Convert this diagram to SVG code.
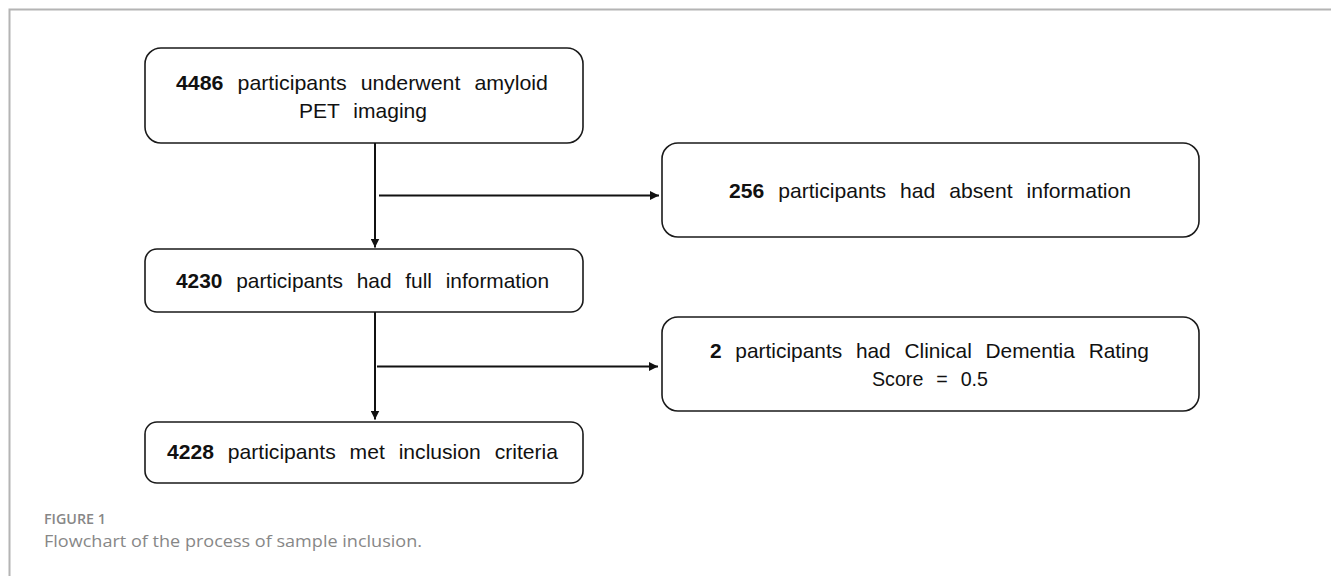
<svg xmlns="http://www.w3.org/2000/svg" width="1331" height="576" viewBox="0 0 1331 576">
<defs>
<style>
.box{fill:#fff;stroke:#1a1a1a;stroke-width:1.6}
.t{font-family:"Liberation Sans",Arial,sans-serif;font-size:21px;fill:#111;text-anchor:middle;word-spacing:8px}
.b{font-weight:bold}
.ln{stroke:#111;stroke-width:2;fill:none}
.frame{stroke:#b4b4b4;stroke-width:2;fill:none}
.cap{font-family:"Open Sans","Noto Sans",sans-serif;fill:#878787}
</style>
<marker id="ah" viewBox="0 0 10 10" refX="10" refY="5" markerWidth="9" markerHeight="9" markerUnits="userSpaceOnUse" orient="auto">
<path d="M0,0 L10,5 L0,10 z" fill="#111"/>
</marker>
</defs>
<rect width="1331" height="576" fill="#fff"/>
<path class="frame" d="M9.5,576 V9.5 H1331"/>

<g id="n1">
<rect class="box" x="145" y="48" width="438" height="95" rx="16"/>
<text class="t" x="362" y="90" textLength="372" lengthAdjust="spacingAndGlyphs"><tspan class="b">4486</tspan> participants underwent amyloid</text>
<text class="t" x="363" y="118" textLength="128" lengthAdjust="spacingAndGlyphs">PET imaging</text>
</g>
<g id="n2">
<rect class="box" x="662" y="143" width="537" height="94" rx="16"/>
<text class="t" x="930" y="198" textLength="402" lengthAdjust="spacingAndGlyphs"><tspan class="b">256</tspan> participants had absent information</text>
</g>
<g id="n3">
<rect class="box" x="145" y="249" width="438" height="63" rx="12"/>
<text class="t" x="362.5" y="288" textLength="373" lengthAdjust="spacingAndGlyphs"><tspan class="b">4230</tspan> participants had full information</text>
</g>
<g id="n4">
<rect class="box" x="662" y="317" width="537" height="94" rx="16"/>
<text class="t" x="929.5" y="358" textLength="439" lengthAdjust="spacingAndGlyphs"><tspan class="b">2</tspan> participants had Clinical Dementia Rating</text>
<text class="t" x="930" y="386" textLength="116" lengthAdjust="spacingAndGlyphs">Score = 0.5</text>
</g>
<g id="n5">
<rect class="box" x="145" y="422" width="438" height="61" rx="12"/>
<text class="t" x="362.5" y="459" textLength="391" lengthAdjust="spacingAndGlyphs"><tspan class="b">4228</tspan> participants met inclusion criteria</text>
</g>

<g id="connectors">
<line class="ln" x1="375" y1="143" x2="375" y2="247.5" marker-end="url(#ah)"/>
<line class="ln" x1="379" y1="195.5" x2="659" y2="195.5" marker-end="url(#ah)"/>
<line class="ln" x1="375" y1="312" x2="375" y2="419.5" marker-end="url(#ah)"/>
<line class="ln" x1="377" y1="366.5" x2="658" y2="366.5" marker-end="url(#ah)"/>
</g>

<g id="caption">
<text class="cap" x="44" y="524" font-size="15" font-weight="600" textLength="62" lengthAdjust="spacingAndGlyphs">FIGURE 1</text>
<text class="cap" x="44" y="547" font-size="17" textLength="378" lengthAdjust="spacingAndGlyphs">Flowchart of the process of sample inclusion.</text>
</g>
</svg>
